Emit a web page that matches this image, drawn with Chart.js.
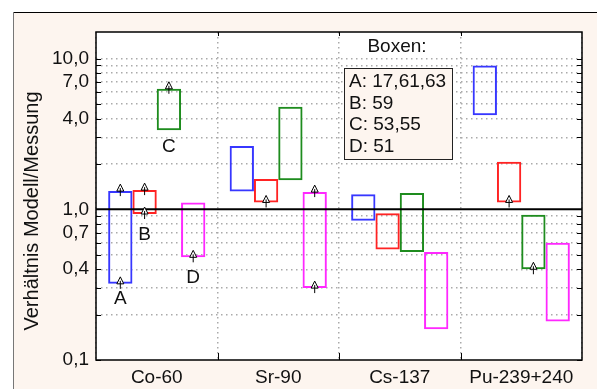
<!DOCTYPE html>
<html>
<head>
<meta charset="utf-8">
<script src="https://cdn.jsdelivr.net/npm/chart.js@4"></script>
<style>
  html, body { margin: 0; padding: 0; background: #ffffff; }
  #wrap { width: 597px; height: 389px; }
</style>
</head>
<body>
<div id="wrap"><canvas id="chart" width="597" height="389"></canvas></div>
<script>
// Daten
const categories = ['Co-60', 'Sr-90', 'Cs-137', 'Pu-239+240'];
const seriesNames = ['A', 'B', 'C', 'D'];
const boxA = [[0.32, 1.32], [1.31, 2.63], [0.84, 1.26], [4.2, 9.0]];
const boxB = [[0.93, 1.34], [1.11, 1.59], [0.54, 0.94], [1.11, 2.07]];
const boxC = [[3.34, 6.3], [1.56, 4.78], [0.52, 1.28], [0.40, 0.92]];
const boxD = [[0.48, 1.11], [0.30, 1.30], [0.16, 0.52], [0.18, 0.60]];
const yTickValues = [0.1, 0.2, 0.3, 0.4, 0.5, 0.6, 0.7, 0.8, 0.9, 1, 2, 3, 4, 5, 6, 7, 8, 9, 10];
const yLabelled = [0.1, 0.4, 0.7, 1, 4, 7, 10];
const legendTitle = 'Boxen:';
const legendLines = ['A: 17,61,63', 'B: 59', 'C: 53,55', 'D: 51'];
// Pfeile: Serie, Kategorie, Wert
const arrowSeries = [0, 0, 1, 1, 2, 3, 1, 3, 3, 1, 2];
const arrowCats = [0, 0, 0, 0, 0, 0, 1, 1, 1, 3, 3];
const arrowValues = [1.32, 0.32, 1.34, 0.93, 6.3, 0.48, 1.11, 1.30, 0.30, 1.11, 0.40];

const colors = ['rgb(55,55,255)', 'rgb(255,35,35)', 'rgb(30,140,30)', 'rgb(255,40,255)'];
const FONT = '"Liberation Sans", Arial, sans-serif';
const CREAM = '#fdf5ef';

const fmt = v => v.toFixed(1).replace('.', ',');

const framePlugin = {
    id: 'frame',
    beforeDraw(chart) {
        const ctx = chart.ctx;
        const a = chart.chartArea;
        ctx.save();
        ctx.fillStyle = '#ffffff';
        ctx.fillRect(0, 0, chart.width, chart.height);
        ctx.fillStyle = CREAM;
        ctx.fillRect(13, 12, chart.width - 13, chart.height - 12);
        ctx.strokeStyle = '#000000';
        ctx.lineWidth = 1;
        ctx.beginPath();
        ctx.moveTo(13, 12.5);
        ctx.lineTo(chart.width, 12.5);
        ctx.stroke();
        ctx.strokeStyle = '#777777';
        ctx.beginPath();
        ctx.moveTo(13.5, 12);
        ctx.lineTo(13.5, chart.height);
        ctx.stroke();
        ctx.fillStyle = '#ffffff';
        ctx.fillRect(a.left, a.top, a.right - a.left, a.bottom - a.top);
        ctx.restore();
    },
    afterDraw(chart) {
        const ctx = chart.ctx;
        const a = chart.chartArea;
        const y = chart.scales.y;
        const x = chart.scales.x;
        ctx.save();

        // Linie bei 1,0
        const y1 = y.getPixelForValue(1);
        ctx.strokeStyle = '#000000';
        ctx.lineWidth = 2;
        ctx.beginPath();
        ctx.moveTo(a.left, y1);
        ctx.lineTo(a.right, y1);
        ctx.stroke();

        // Rahmen
        ctx.lineWidth = 1.5;
        ctx.strokeRect(a.left, a.top, a.right - a.left, a.bottom - a.top);

        // Innenliegende Teilstriche
        ctx.lineWidth = 1;
        ctx.beginPath();
        yTickValues.forEach(v => {
            const py = Math.round(y.getPixelForValue(v)) + 0.5;
            ctx.moveTo(a.left, py); ctx.lineTo(a.left + 5, py);
            ctx.moveTo(a.right - 5, py); ctx.lineTo(a.right, py);
        });
        for (let i = 1; i < categories.length; i++) {
            const px = Math.round((x.getPixelForValue(i - 1) + x.getPixelForValue(i)) / 2) + 0.5;
            ctx.moveTo(px, a.bottom); ctx.lineTo(px, a.bottom - 7);
            ctx.moveTo(px, a.top); ctx.lineTo(px, a.top + 4);
        }
        ctx.stroke();

        // Pfeile
        arrowValues.forEach((v, i) => {
            const bar = chart.getDatasetMeta(arrowSeries[i]).data[arrowCats[i]];
            const px = bar.x;
            const py = y.getPixelForValue(v);
            ctx.strokeStyle = '#000000';
            ctx.lineWidth = 1;
            ctx.beginPath();
            ctx.moveTo(px, py - 4);
            ctx.lineTo(px, py + 5);
            ctx.stroke();
            ctx.beginPath();
            ctx.moveTo(px, py - 7);
            ctx.lineTo(px - 3.5, py);
            ctx.lineTo(px + 3.5, py);
            ctx.closePath();
            ctx.fillStyle = '#ffffff';
            ctx.fill();
            ctx.stroke();
            ctx.beginPath();
            ctx.moveTo(px, py - 3);
            ctx.lineTo(px, py);
            ctx.stroke();
        });

        // Buchstaben unter den Boxen (Co-60)
        const letterGap = [15, 21, 16, 20];
        ctx.fillStyle = '#111111';
        ctx.font = '19px ' + FONT;
        ctx.textAlign = 'center';
        ctx.textBaseline = 'middle';
        seriesNames.forEach((s, i) => {
            const bar = chart.getDatasetMeta(i).data[0];
            const low = chart.data.datasets[i].data[0][0];
            ctx.fillText(s, bar.x, y.getPixelForValue(low) + letterGap[i]);
        });

        // Legende "Boxen:"
        ctx.fillText(legendTitle, 397, 47);
        ctx.fillStyle = CREAM;
        ctx.fillRect(344.5, 68.5, 108, 91);
        ctx.strokeStyle = '#222222';
        ctx.lineWidth = 1;
        ctx.strokeRect(344.5, 68.5, 108, 91);
        ctx.fillStyle = '#111111';
        ctx.textAlign = 'left';
        legendLines.forEach((t, i) => {
            ctx.fillText(t, 349, 82 + i * 21.5);
        });

        // Achsentitel
        ctx.font = '20px ' + FONT;
        ctx.translate(32, 211);
        ctx.rotate(-Math.PI / 2);
        ctx.textAlign = 'center';
        ctx.fillText('Verhältnis Modell/Messung', 0, 0);
        ctx.restore();
    }
};

const datasets = [boxA, boxB, boxC, boxD].map((d, i) => ({
    label: seriesNames[i],
    data: d,
    backgroundColor: 'rgba(0,0,0,0)',
    borderColor: colors[i],
    borderWidth: 2,
    borderSkipped: false,
    barPercentage: 1.0,
    categoryPercentage: 0.8
}));

new Chart(document.getElementById('chart').getContext('2d'), {
    type: 'bar',
    data: { labels: categories, datasets: datasets },
    plugins: [framePlugin],
    options: {
        responsive: false,
        animation: false,
        events: [],
        layout: { padding: { top: 32, right: 15, left: 0, bottom: 0 } },
        plugins: { legend: { display: false }, tooltip: { enabled: false } },
        scales: {
            x: {
                grid: {
                    color: '#aaaaaa',
                    lineWidth: 1.5,
                    drawTicks: false,
                    offset: true
                },
                border: { display: false, dash: [1.5, 3.5] },
                ticks: {
                    color: '#111111',
                    font: { family: FONT, size: 19 },
                    padding: 6
                },
                afterFit(scale) { scale.height = 29; }
            },
            y: {
                type: 'logarithmic',
                min: 0.1,
                max: 15,
                grid: {
                    color: ctx => (ctx.tick && (ctx.tick.value === 0.1 || ctx.tick.value === 1)) ? 'rgba(0,0,0,0)' : '#aaaaaa',
                    lineWidth: 1.5,
                    drawTicks: false
                },
                border: { display: false, dash: [1.5, 3.5] },
                afterBuildTicks(scale) {
                    scale.ticks = yTickValues.map(v => ({ value: v }));
                },
                ticks: {
                    autoSkip: false,
                    color: '#111111',
                    font: { family: FONT, size: 19 },
                    padding: 7,
                    callback: v => yLabelled.some(l => Math.abs(l - v) < 1e-9) ? fmt(v) : ''
                },
                afterFit(scale) { scale.width = 96; }
            }
        }
    }
});
</script>
</body>
</html>
